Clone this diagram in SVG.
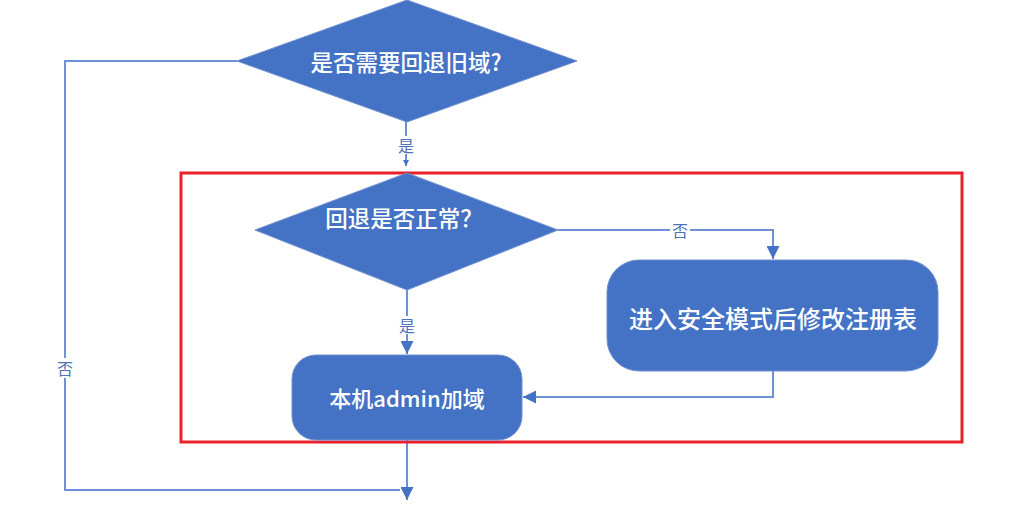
<svg xmlns="http://www.w3.org/2000/svg" width="1033" height="506" viewBox="0 0 1033 506">
<defs>
<marker id="arr" viewBox="0 0 10 10" refX="10" refY="5" markerWidth="6" markerHeight="6" orient="auto" markerUnits="userSpaceOnUse">
<path d="M0,0 L10,5 L0,10 z" fill="#4472c4"/>
</marker>
<marker id="arrL" viewBox="0 0 10 10" refX="10" refY="5" markerWidth="13" markerHeight="13" orient="auto" markerUnits="userSpaceOnUse">
<path d="M0,0 L10,5 L0,10 z" fill="#4472c4"/>
</marker>
<style>
.shape{fill:#4472c4;stroke:#6f8fd0;stroke-width:1}
.t{fill:#ffffff;font-family:"Noto Sans CJK SC","Liberation Sans",sans-serif;font-weight:500;text-anchor:middle;dominant-baseline:central}
.c{fill:none;stroke:#6e90d4;stroke-width:2}
.lbl{fill:#4f73b8;font-family:"Noto Sans CJK SC",sans-serif;font-size:16px;text-anchor:middle;dominant-baseline:central}
.bg{fill:#ffffff}
</style>
</defs>
<rect width="1033" height="506" fill="#ffffff"/>
<g id="connectors">
<path class="c" d="M406,122 V166" marker-end="url(#arr)"/>
<rect class="bg" x="397" y="136" width="18" height="18"/>
<text class="lbl" x="406" y="145">是</text>
<path class="c" d="M558,230 H773 V259" marker-end="url(#arrL)"/>
<rect class="bg" x="670" y="221" width="20" height="18"/>
<text class="lbl" x="680" y="230">否</text>
<path class="c" d="M407,290 V354" marker-end="url(#arrL)"/>
<rect class="bg" x="398" y="316" width="18" height="18"/>
<text class="lbl" x="407" y="325">是</text>
<path class="c" d="M773,371 V397 H523" marker-end="url(#arrL)"/>
<path class="c" d="M407,440 V500" marker-end="url(#arrL)"/>
<path class="c" d="M237,61 H65 V490 H400"/>
<rect class="bg" x="55" y="358" width="20" height="20"/>
<text class="lbl" x="65" y="368">否</text>
</g>
<g id="group-box">
<rect x="181" y="173" width="781" height="269" fill="none" stroke="#e8212b" stroke-width="3"/>
</g>
<g id="node-decide-rollback">
<polygon class="shape" points="407,0 577,61 407,122 237,61"/>
<text class="t" x="406" y="61" font-size="22.5">是否需要回退旧域?</text>
</g>
<g id="node-rollback-ok">
<polygon class="shape" points="407,173 558,230 407,290 255,230"/>
<text class="t" x="404" y="217" font-size="22.5">回退是否正常？</text>
</g>
<g id="node-safe-mode">
<rect class="shape" x="607" y="260" width="331" height="111" rx="32"/>
<text class="t" x="773" y="317" font-size="24">进入安全模式后修改注册表</text>
</g>
<g id="node-join-domain">
<rect class="shape" x="292" y="355" width="230" height="85" rx="24"/>
<text class="t" x="407" y="397" font-size="22">本机admin加域</text>
</g>
</svg>
